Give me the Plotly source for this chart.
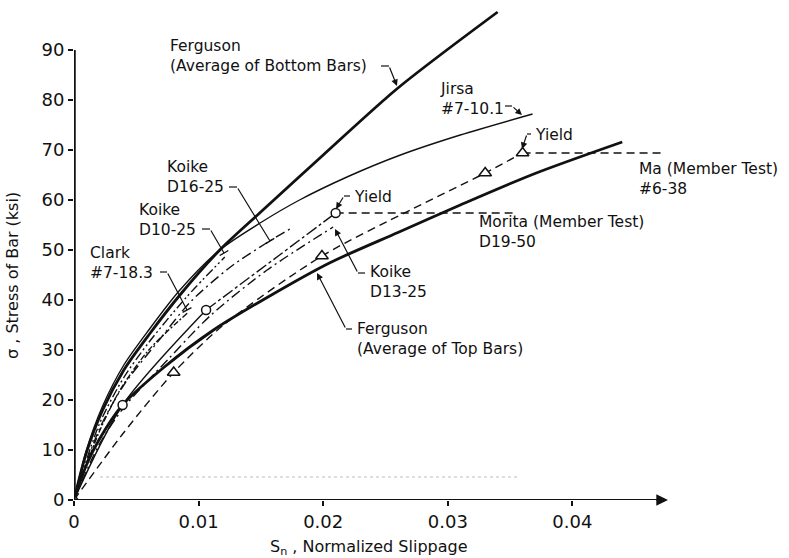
import plotly.graph_objects as go

# ---------------- data ----------------
ferg_bot_x = [0, 0.001, 0.0023, 0.004, 0.006, 0.0085, 0.0117, 0.0149, 0.020, 0.026, 0.034]
ferg_bot_y = [0, 9.5, 18, 26, 33, 41, 50, 57.4, 69, 82.4, 97.6]

jirsa_x = [0, 0.001, 0.0023, 0.004, 0.006, 0.0085, 0.0117, 0.015, 0.0181, 0.022, 0.0262, 0.031, 0.0368]
jirsa_y = [0, 10, 18.8, 27, 34, 42, 50, 55.5, 60, 64.7, 69, 73, 77.2]

koike16_x = [0, 0.002, 0.004, 0.007, 0.0093, 0.0125, 0.0157, 0.0176]
koike16_y = [0, 14, 23, 32.5, 39.5, 46.5, 51.8, 54.6]

koike10_x = [0, 0.002, 0.004, 0.006, 0.009, 0.0121]
koike10_y = [0, 15, 24.5, 31.5, 40.5, 48.6]

clark_x = [0, 0.002, 0.0037, 0.006, 0.0091]
clark_y = [0, 13.5, 22, 30, 37.4]

koike13_x = [0, 0.002, 0.004, 0.0075, 0.011, 0.0155, 0.0208]
koike13_y = [0, 11, 18.5, 28, 37, 46, 54.6]

morita_a_x = [0, 0.0039, 0.0106]
morita_a_y = [0, 19, 38]
morita_b_x = [0.0106, 0.0165, 0.021]
morita_b_y = [38, 49, 57.4]
morita_pts_x = [0.0039, 0.0106, 0.021]
morita_pts_y = [19, 38, 57.4]
morita_yield_x = [0.021, 0.0352]
morita_yield_y = [57.4, 57.4]

ferg_top_x = [0, 0.001, 0.002, 0.0039, 0.0072, 0.0112, 0.0155, 0.0205, 0.026, 0.031, 0.037, 0.044]
ferg_top_y = [0, 7, 12, 19, 26.5, 34, 40.5, 47.4, 53.5, 59, 65.3, 71.6]

ma_x = [0, 0.004, 0.008, 0.012, 0.0199, 0.027, 0.033, 0.036]
ma_y = [0, 13.5, 25.5, 35, 48.8, 58, 65.4, 69.4]
ma_pts_x = [0, 0.008, 0.0199, 0.033, 0.036]
ma_pts_y = [0, 25.5, 48.8, 65.4, 69.4]
ma_yield_x = [0.036, 0.0471]
ma_yield_y = [69.4, 69.4]

x_ticks = [0, 0.01, 0.02, 0.03, 0.04]
x_tick_text = ["0", "0.01", "0.02", "0.03", "0.04"]
y_ticks = [0, 10, 20, 30, 40, 50, 60, 70, 80, 90]

# ---------------- geometry helpers ----------------
W, H = 789, 558
ML, MR, MT, MB = 74, 15, 0, 58
XS = 12460.0   # px per unit slip
YS = 5.0       # px per ksi
XMAX = (W - ML - MR) / XS
YMAX = (H - MT - MB) / YS


def dx(px):
    return (px - ML) / XS


def dy(py):
    return (H - MB - py) / YS


def paper_x(px):
    return (px - ML) / (W - ML - MR)


def paper_y(py):
    return (H - MB - py) / (H - MT - MB)


INK = "#111111"
FONT = "DejaVu Sans"
FS = 15.5

fig = go.Figure()


def curve(x, y, width=1.4, dash="solid"):
    fig.add_trace(go.Scatter(x=x, y=y, mode="lines",
                             line=dict(color=INK, width=width, dash=dash,
                                       shape="spline", smoothing=0.8),
                             hoverinfo="skip", showlegend=False))


def marks(x, y, symbol, size):
    fig.add_trace(go.Scatter(x=x, y=y, mode="markers",
                             marker=dict(symbol=symbol, size=size, color="white",
                                         line=dict(color=INK, width=1.5)),
                             hoverinfo="skip", showlegend=False))


curve(ferg_bot_x, ferg_bot_y, width=2.8)
curve(jirsa_x, jirsa_y, width=1.4)
curve(koike16_x, koike16_y, width=1.4, dash="10px,4px,2px,4px")
curve(koike10_x, koike10_y, width=1.4, dash="9px,3px,2px,3px,2px,3px")
curve(clark_x, clark_y, width=1.4, dash="6px,2px,2px,2px")
curve(koike13_x, koike13_y, width=1.4, dash="10px,4px,2px,4px")
curve(morita_a_x, morita_a_y, width=1.4)
curve(morita_b_x, morita_b_y, width=1.4, dash="12px,3px,3px,3px")
curve(morita_yield_x, morita_yield_y, width=1.4, dash="8px,5px")
curve(ferg_top_x, ferg_top_y, width=2.8)
curve(ma_x, ma_y, width=1.4, dash="8px,5px")
curve(ma_yield_x, ma_yield_y, width=1.4, dash="8px,5px")
marks(morita_pts_x, morita_pts_y, "circle", 9)
marks(ma_pts_x, ma_pts_y, "triangle-up", 11)

shapes = []
annotations = []

# axis lines
shapes.append(dict(type="line", xref="x", yref="y", x0=0, x1=0, y0=-0.6, y1=90,
                   line=dict(color=INK, width=3.5)))
shapes.append(dict(type="line", xref="x", yref="y", x0=0, x1=dx(660), y0=0, y1=0,
                   line=dict(color=INK, width=2)))
annotations.append(dict(x=dx(668), y=0, ax=dx(655), ay=0, xref="x", yref="y",
                        axref="x", ayref="y", text="", showarrow=True,
                        arrowhead=2, arrowsize=1.3, arrowwidth=1.8, arrowcolor=INK))
# faint dotted scan line
shapes.append(dict(type="line", xref="x", yref="y", x0=dx(100), x1=dx(520),
                   y0=dy(477), y1=dy(477),
                   line=dict(color="#bdbdbd", width=1, dash="dot")))

# label blocks: (text, left px, block centre px)
labels = [
    ("Ferguson<br>(Average of Bottom Bars)", 168, 56),
    ("Jirsa<br>#7-10.1", 438, 98.5),
    ("Yield", 533, 135),
    ("Ma (Member Test)<br>#6-38", 637, 179),
    ("Yield", 352, 197),
    ("Morita (Member Test)<br>D19-50", 477, 232),
    ("Koike<br>D16-25", 165, 177),
    ("Koike<br>D10-25", 137, 219.5),
    ("Clark<br>#7-18.3", 88, 262.5),
    ("Koike<br>D13-25", 368, 281.5),
    ("Ferguson<br>(Average of Top Bars)", 355, 339),
]
for t, lx, cy in labels:
    annotations.append(dict(x=dx(lx), y=dy(cy), xref="x", yref="y", text=t,
                            showarrow=False, xanchor="left", yanchor="middle",
                            align="left", font=dict(family=FONT, size=FS, color=INK)))

# leader lines (px), last point is the target
leaders = [
    ([(381, 66), (389, 66), (397, 86)], "arrow"),
    ([(505, 106), (512, 106), (522, 115)], "arrow"),
    ([(531, 134), (527, 134), (522, 149)], "arrow"),
    ([(350, 196), (344, 196), (336, 209)], "arrow"),
    ([(229, 187), (237, 187), (270, 241)], "tick"),
    ([(202, 229), (210, 229), (224, 253)], "tick"),
    ([(160, 272), (167, 272), (187, 310)], "tick"),
    ([(365, 273), (358, 273), (335, 229)], "arrow"),
    ([(352, 329), (346, 329), (317, 273)], "arrow"),
]
for pts, kind in leaders:
    (x0, y0), (x1, y1), (x2, y2) = pts
    shapes.append(dict(type="line", xref="x", yref="y", x0=dx(x0), y0=dy(y0),
                       x1=dx(x1), y1=dy(y1), line=dict(color=INK, width=1.2)))
    annotations.append(dict(x=dx(x2), y=dy(y2), ax=dx(x1), ay=dy(y1), xref="x", yref="y",
                            axref="x", ayref="y", text="", showarrow=True,
                            arrowhead=2 if kind == "arrow" else 0, arrowsize=1.1,
                            arrowwidth=1.2, arrowcolor=INK, standoff=0))
    if kind == "tick":
        vx, vy = x2 - x1, y2 - y1
        n = (vx ** 2 + vy ** 2) ** 0.5
        px_, py_ = -vy / n * 5, vx / n * 5
        shapes.append(dict(type="line", xref="x", yref="y",
                           x0=dx(x2 - px_), y0=dy(y2 - py_), x1=dx(x2 + px_), y1=dy(y2 + py_),
                           line=dict(color=INK, width=1.4)))

# axis titles (paper coordinates so they are not hidden outside the axis range)
annotations.append(dict(x=paper_x(268), y=paper_y(547), xref="paper", yref="paper",
                        text="S<sub>n</sub> , Normalized Slippage", showarrow=False,
                        xanchor="left", yanchor="middle",
                        font=dict(family=FONT, size=16, color=INK)))
annotations.append(dict(x=paper_x(12), y=paper_y(276), xref="paper", yref="paper",
                        text="σ , Stress of Bar (ksi)", showarrow=False, textangle=-90,
                        xanchor="center", yanchor="middle",
                        font=dict(family=FONT, size=16, color=INK)))

fig.update_layout(
    width=W, height=H,
    margin=dict(l=ML, r=MR, t=MT, b=MB),
    paper_bgcolor="white", plot_bgcolor="white",
    shapes=shapes, annotations=annotations,
    xaxis=dict(range=[0, XMAX], showgrid=False, zeroline=False, showline=False,
               tickvals=x_ticks, ticktext=x_tick_text, ticks="outside", ticklen=5,
               tickwidth=1.5, tickcolor=INK,
               tickfont=dict(family=FONT, size=18, color=INK)),
    yaxis=dict(range=[0, YMAX], showgrid=False, zeroline=False, showline=False,
               tickvals=y_ticks, ticks="outside", ticklen=5, tickwidth=1.5, tickcolor=INK,
               tickfont=dict(family=FONT, size=18, color=INK)),
)

fig.write_html("out.html")
